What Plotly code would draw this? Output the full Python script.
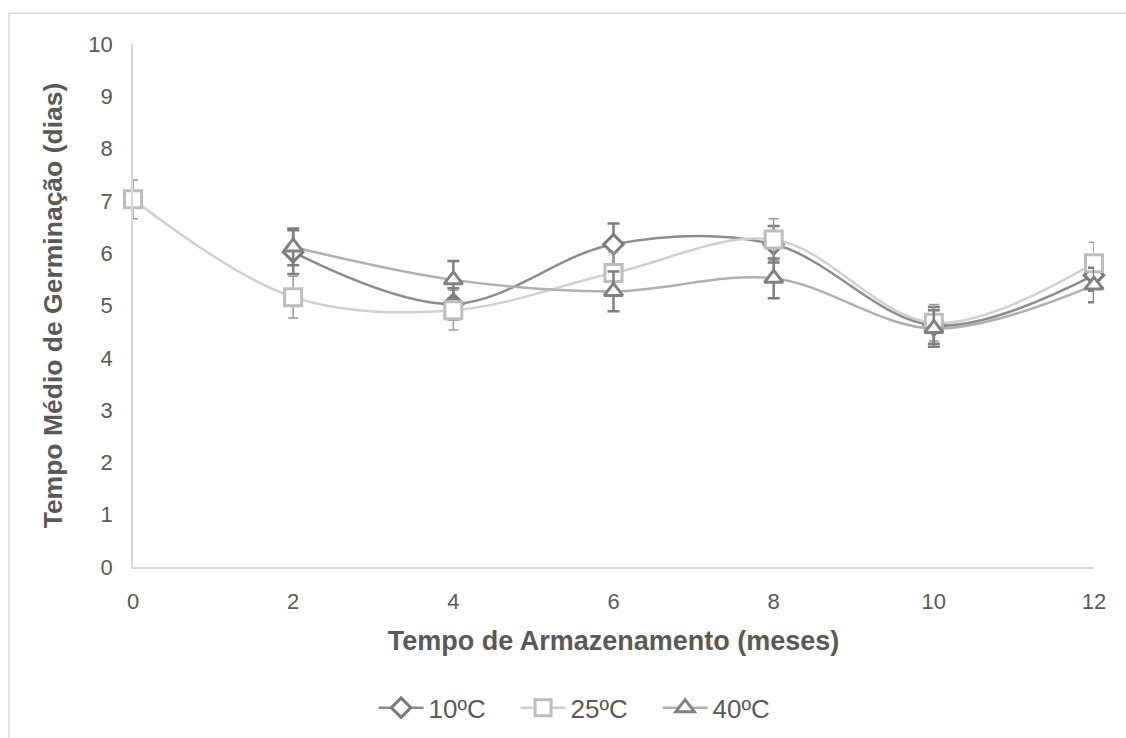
import plotly.graph_objects as go

meses = [0, 2, 4, 6, 8, 10, 12]
x_10 = [2, 4, 6, 8, 10, 12]
y_10 = [6.02, 5.03, 6.17, 6.17, 4.62, 5.58]
e_10 = [0.42, 0.30, 0.40, 0.35, 0.35, 0.30]
y_25 = [7.03, 5.16, 4.91, 5.62, 6.26, 4.67, 5.81]
e_25 = [0.37, 0.40, 0.38, 0.40, 0.40, 0.35, 0.40]
x_40 = [2, 4, 6, 8, 10, 12]
y_40 = [6.12, 5.49, 5.27, 5.52, 4.56, 5.39]
e_40 = [0.35, 0.36, 0.38, 0.38, 0.35, 0.33]

font = "Liberation Sans, Arial, sans-serif"
txt = "#595959"

fig = go.Figure()
fig.add_trace(go.Scatter(
    x=x_10, y=y_10, name="10ºC", mode="lines+markers", cliponaxis=False,
    line=dict(color="#8c8c8c", width=2.5, shape="spline", smoothing=1.0),
    marker=dict(symbol="diamond", size=15, color="white",
                line=dict(color="#7a7a7a", width=3)),
    error_y=dict(type="data", array=e_10, color="#7f7f7f", thickness=2.5, width=6),
))
fig.add_trace(go.Scatter(
    x=meses, y=y_25, name="25ºC", mode="lines+markers", cliponaxis=False,
    line=dict(color="#d0d0d0", width=2.5, shape="spline", smoothing=1.0),
    marker=dict(symbol="square", size=17, color="white",
                line=dict(color="#bdbdbd", width=3)),
    error_y=dict(type="data", array=e_25, color="#9a9a9a", thickness=1.5, width=5),
))
fig.add_trace(go.Scatter(
    x=x_40, y=y_40, name="40ºC", mode="lines+markers", cliponaxis=False,
    line=dict(color="#b0b0b0", width=2.5, shape="spline", smoothing=1.0),
    marker=dict(symbol="triangle-up", size=16, color="white",
                line=dict(color="#808080", width=3)),
    error_y=dict(type="data", array=e_40, color="#7f7f7f", thickness=2.5, width=6),
))

fig.add_shape(type="rect", xref="paper", yref="paper",
              x0=-0.129, x1=1.2, y0=-0.5, y1=1.059,
              line=dict(color="#d9d9d9", width=1.5), fillcolor="rgba(0,0,0,0)", layer="below")

fig.update_layout(
    width=1126, height=738,
    margin=dict(l=133, r=32, t=44, b=171, autoexpand=False),
    paper_bgcolor="white", plot_bgcolor="white",
    font=dict(family=font, color=txt, size=21),
    showlegend=True,
    legend=dict(orientation="h", x=0.472, xanchor="center",
                yref="container", y=0.041, yanchor="middle",
                font=dict(size=26, color=txt), itemwidth=45,
                entrywidth=82, entrywidthmode="pixels"),
    xaxis=dict(range=[0, 12], tickvals=meses, showgrid=False, zeroline=False,
               showline=True, linecolor="#d9d9d9", linewidth=1.5, ticks="",
               ticklabelstandoff=14, automargin=False,
               tickfont=dict(size=22, color=txt),
               title=dict(text="<b>Tempo de Armazenamento (meses)</b>",
                          font=dict(size=27, color=txt), standoff=18)),
    yaxis=dict(range=[0, 10], dtick=1, showgrid=False, zeroline=False,
               showline=True, linecolor="#d9d9d9", linewidth=1.5, ticks="",
               ticklabelstandoff=14, automargin=False,
               tickfont=dict(size=22, color=txt),
               title=dict(text="<b>Tempo Médio de Germinação (dias)</b>",
                          font=dict(size=26.5, color=txt), standoff=18)),
)

fig.write_html("out.html")
